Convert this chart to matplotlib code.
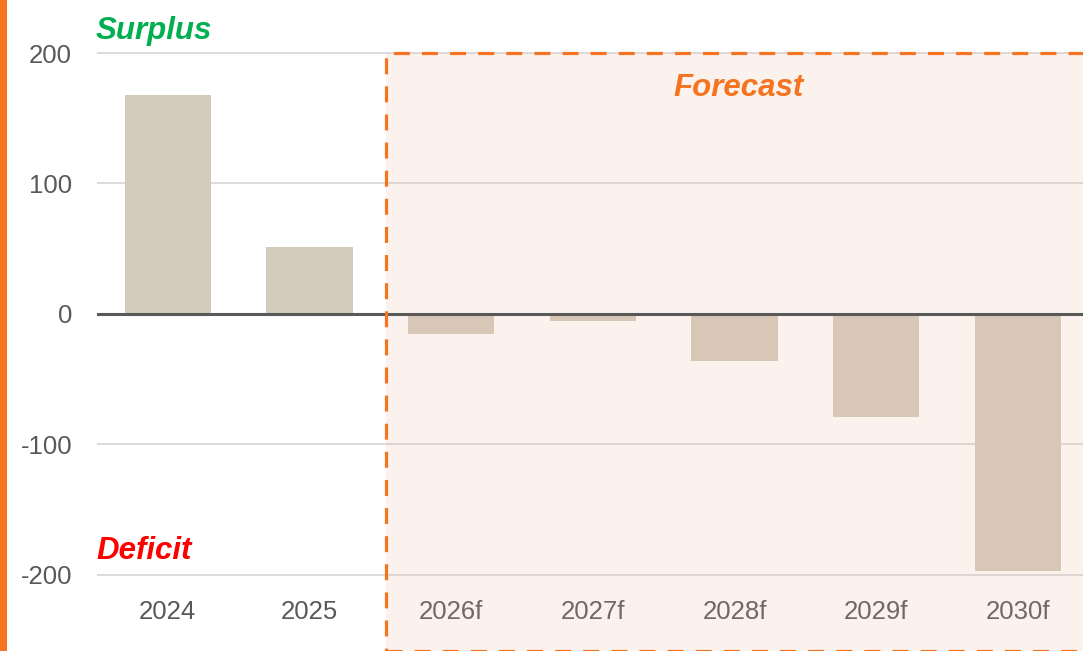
import matplotlib
matplotlib.use("Agg")
import matplotlib.pyplot as plt
from matplotlib.patches import Rectangle

plt.rcParams['font.family'] = ['Liberation Sans', 'DejaVu Sans']

categories = ["2024", "2025", "2026f", "2027f", "2028f", "2029f", "2030f"]
values = [168, 51, -15, -5, -36, -79, -197]
yticks = [-200, -100, 0, 100, 200]
ytick_labels = ["-200", "-100", "0", "100", "200"]
forecast_start = 2  # index of first forecast category

W, H = 1083, 651
fig = plt.figure(figsize=(W / 100, H / 100), dpi=100)
fig.patch.set_facecolor("white")

# axes placement
ax = fig.add_axes([97 / W, 0.1068, 1 - 97 / W, 0.9286 - 0.1068])
ax.set_xlim(-0.5, 6.46)
ax.set_ylim(-205, 205)

x = list(range(len(categories)))
ax.bar(x, values, width=0.61, color="#D4CBBE", zorder=2, linewidth=0)

ax.set_yticks(yticks)
ax.set_yticklabels(ytick_labels)
ax.set_xticks(x)
ax.set_xticklabels(categories)
ax.tick_params(axis="both", length=0, labelsize=18.5, labelcolor="#595959")
ax.tick_params(axis="y", pad=18)
ax.tick_params(axis="x", pad=13)
for s in ax.spines.values():
    s.set_visible(False)

for yv in yticks:
    if yv != 0:
        ax.axhline(yv, color="#D9D9D9", lw=1.3, zorder=1)
ax.axhline(0, color="#595959", lw=2.2, zorder=5)

# forecast overlay
fx = forecast_start - 0.46
overlay = Rectangle((fx, -260), 8, 460, facecolor=(240 / 255, 180 / 255, 150 / 255, 0.17),
                    edgecolor="none", zorder=4, clip_on=False)
ax.add_patch(overlay)
border = Rectangle((fx, -258), 8, 458, facecolor="none", edgecolor="#F47421",
                   lw=2.3, linestyle=(0, (5.0, 3.8)), zorder=6, clip_on=False)
ax.add_patch(border)

ax.text((fx + 6.46) / 2 + 0.03, 173, "Forecast", color="#F47421", fontsize=22.5,
        fontweight="bold", fontstyle="italic", ha="center", va="center", zorder=7)

fig.text(96 / W, 1 - 31 / H, "Surplus", color="#00B050", fontsize=22.5,
         fontweight="bold", fontstyle="italic", ha="left", va="center")
fig.text(96 / W, 1 - 551 / H, "Deficit", color="#FF0000", fontsize=22.5,
         fontweight="bold", fontstyle="italic", ha="left", va="center")

# left orange stripe
fig.patches.append(Rectangle((0, 0), 7 / W, 1, transform=fig.transFigure,
                             facecolor="#F47421", edgecolor="none", figure=fig))

fig.savefig("out.png", dpi=100)
